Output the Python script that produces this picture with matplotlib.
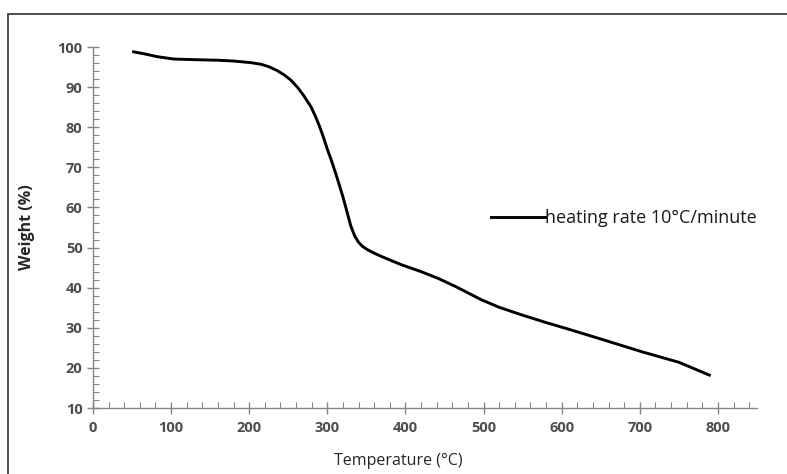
import matplotlib.pyplot as plt
from matplotlib.patches import Rectangle
from matplotlib.ticker import MultipleLocator

# TGA curve
temperature = [52, 68, 82, 103, 120, 138, 160, 180, 202, 215, 225, 236, 245,
               253, 262, 270, 279, 285, 290, 295, 300, 305, 310, 315, 320, 325,
               330, 335, 340, 345, 352, 360, 369, 380, 395, 420, 442, 465, 485,
               497, 520, 549, 580, 613, 650, 703, 750, 789]
weight = [98.8, 98.2, 97.6, 97.0, 96.9, 96.8, 96.7, 96.5, 96.1, 95.7, 95.1,
          94.1, 93.0, 91.8, 89.9, 87.8, 85.1, 82.6, 80.2, 77.5, 74.5, 71.8,
          68.9, 65.8, 62.6, 59.0, 55.4, 52.9, 51.3, 50.3, 49.4, 48.6, 47.8,
          46.9, 45.7, 44.0, 42.3, 40.2, 38.2, 37.0, 35.1, 33.2, 31.3, 29.4,
          27.2, 24.0, 21.4, 18.2]
series_name = "heating rate 10°C/minute"
x_ticks = [0, 100, 200, 300, 400, 500, 600, 700, 800]
y_ticks = [10, 20, 30, 40, 50, 60, 70, 80, 90, 100]

plt.rcParams['font.family'] = ['Open Sans', 'DejaVu Sans']

fig = plt.figure(figsize=(7.87, 4.74), dpi=100)
ax = fig.add_axes([93 / 787, 1 - 408 / 474, (757 - 93) / 787, (408 - 47) / 474])

ax.plot(temperature, weight, color='black', lw=2.1, label=series_name,
        solid_joinstyle='round')

ax.set_xlim(0, 850)
ax.set_ylim(10, 100)
ax.set_xticks(x_ticks, [str(t) for t in x_ticks], fontweight='bold', fontsize=10.5)
ax.set_yticks(y_ticks, [str(t) for t in y_ticks], fontweight='bold', fontsize=10.5)
ax.xaxis.set_minor_locator(MultipleLocator(20))
ax.yaxis.set_minor_locator(MultipleLocator(2))

axis_grey = '#868686'
for s in ['top', 'right']:
    ax.spines[s].set_visible(False)
for s in ['left', 'bottom']:
    ax.spines[s].set_color(axis_grey)
    ax.spines[s].set_linewidth(1.0)

ax.tick_params(which='major', direction='inout', length=9, width=1.0,
               color=axis_grey, labelcolor='#4d4d4d')
ax.tick_params(which='minor', direction='in', length=4, width=0.8, color=axis_grey)
ax.tick_params(axis='x', pad=5)
ax.tick_params(axis='y', pad=3)

ax.set_xlabel("Temperature (°C)", fontsize=11.5, color='#262626')
ax.set_ylabel("Weight (%)", fontsize=11.5, color='#262626', fontweight='bold')
ax.xaxis.set_label_coords((398 - 93) / 664, -0.125)
ax.yaxis.set_label_coords(-0.087, 0.5)

leg = ax.legend(loc='center left', bbox_to_anchor=((491 - 93) / 664, (408 - 218) / 361),
                frameon=False, handlelength=3.0, handletextpad=0.0, borderaxespad=0,
                borderpad=0, prop={'size': 13})
for t in leg.get_texts():
    t.set_color('#1a1a1a')

# outer chart border
fig.patches.append(Rectangle((8 / 787, -0.1), 2.0, 1 - 14 / 474 + 0.1,
                             transform=fig.transFigure, fill=False,
                             edgecolor='#404040', lw=1.3))

fig.savefig('out.png', dpi=100)
